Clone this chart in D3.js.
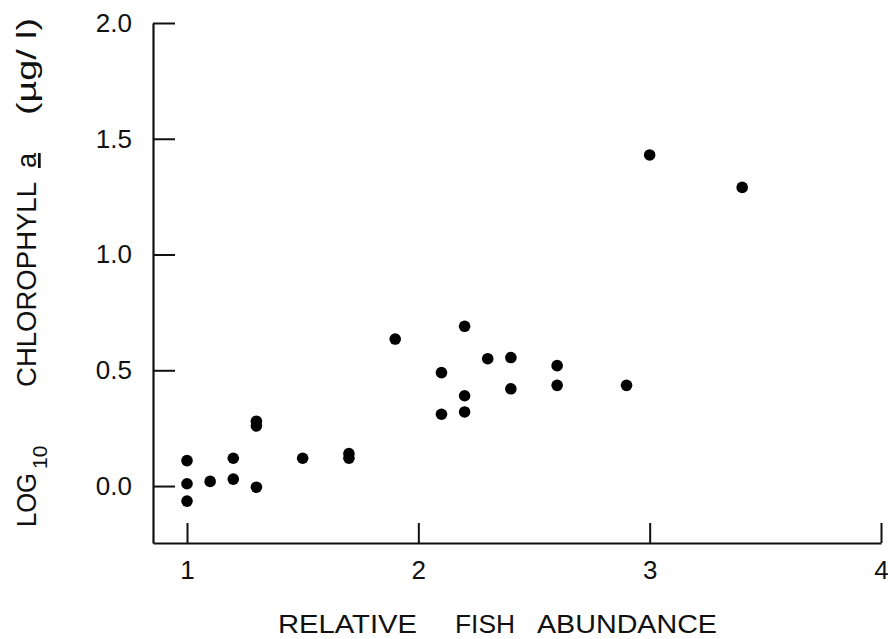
<!DOCTYPE html>
<html>
<head>
<meta charset="utf-8">
<script src="https://cdn.jsdelivr.net/npm/d3@7"></script>
<style>
  body { margin: 0; background: #fff; }
  svg { display: block; }
  text { font-family: "Liberation Sans", Arial, sans-serif; fill: #111; }
</style>
</head>
<body>
<div id="chart"></div>
<script>
// relative fish abundance vs log10 chlorophyll a (ug/l)
const fishAbundance = [1.0, 1.0, 1.0, 1.1, 1.2, 1.2, 1.3, 1.3, 1.3, 1.5, 1.7, 1.7,
    1.9, 2.1, 2.1, 2.2, 2.2, 2.2, 2.3, 2.4, 2.4, 2.6, 2.6, 2.9, 3.0, 3.4];
const logChlorophyll = [0.11, 0.01, -0.065, 0.02, 0.12, 0.03, 0.28, 0.26, -0.005, 0.12, 0.14, 0.12,
    0.635, 0.49, 0.31, 0.69, 0.39, 0.32, 0.55, 0.555, 0.42, 0.52, 0.435, 0.435, 1.43, 1.29];
const xTicks = [1, 2, 3, 4];
const yTicks = [0, 0.5, 1.0, 1.5, 2.0];

const width = 888, height = 639;

const svg = d3.select("#chart")
    .append("svg")
    .attr("width", width)
    .attr("height", height);

const x = d3.scaleLinear().domain([0.853, 4]).range([153, 881]);
const y = d3.scaleLinear().domain([-0.246, 2.0]).range([543, 23]);

// axes, ticks point inwards
const xAxis = svg.append("g")
    .attr("transform", `translate(0,${y.range()[0]})`)
    .call(d3.axisBottom(x).tickValues(xTicks).tickFormat(d3.format("d"))
        .tickSizeInner(-20).tickSizeOuter(0).tickPadding(18));

const yAxis = svg.append("g")
    .attr("transform", `translate(${x.range()[0]},0)`)
    .call(d3.axisLeft(y).tickValues(yTicks).tickFormat(d3.format(".1f"))
        .tickSizeInner(-22).tickSizeOuter(0).tickPadding(21));

[xAxis, yAxis].forEach(function (g) {
    g.select(".domain").attr("stroke", "#111").attr("stroke-width", 2.2);
    g.selectAll(".tick line").attr("stroke", "#111").attr("stroke-width", 2);
    g.selectAll(".tick text")
        .style("font-family", "'Liberation Sans', Arial, sans-serif")
        .style("font-size", "26px")
        .attr("fill", "#111");
});

// points
svg.append("g")
    .selectAll("circle")
    .data(fishAbundance.map((d, i) => [d, logChlorophyll[i]]))
    .join("circle")
    .attr("cx", d => x(d[0]))
    .attr("cy", d => y(d[1]))
    .attr("r", 5.8)
    .attr("fill", "#000");

// x title, word by word
const xWords = [["RELATIVE", 278, 139], ["FISH", 455, 60], ["ABUNDANCE", 537, 180]];
svg.append("g")
    .selectAll("text")
    .data(xWords)
    .join("text")
    .attr("x", d => d[1])
    .attr("y", 633)
    .attr("textLength", d => d[2])
    .attr("lengthAdjust", "spacingAndGlyphs")
    .style("font-size", "25px")
    .text(d => d[0]);

// y title, rotated
const logLabel = svg.append("text")
    .attr("transform", "translate(36,527) rotate(-90)")
    .style("font-size", "27px");
logLabel.append("tspan").text("LOG")
    .attr("textLength", 54).attr("lengthAdjust", "spacingAndGlyphs");
logLabel.append("tspan").text("10")
    .attr("dx", 4).attr("dy", 11)
    .style("font-size", "21px");

const chlLabel = svg.append("text")
    .attr("transform", "translate(36,387) rotate(-90)")
    .style("font-size", "27px");
chlLabel.append("tspan").text("CHLOROPHYLL")
    .attr("textLength", 205).attr("lengthAdjust", "spacingAndGlyphs");
chlLabel.append("tspan").text("a")
    .attr("dx", 14)
    .style("text-decoration", "underline");

svg.append("text")
    .attr("transform", "translate(36,115) rotate(-90)")
    .attr("textLength", 97)
    .attr("lengthAdjust", "spacingAndGlyphs")
    .style("font-size", "27px")
    .text("(\u00b5g/ l)");
</script>
</body>
</html>
